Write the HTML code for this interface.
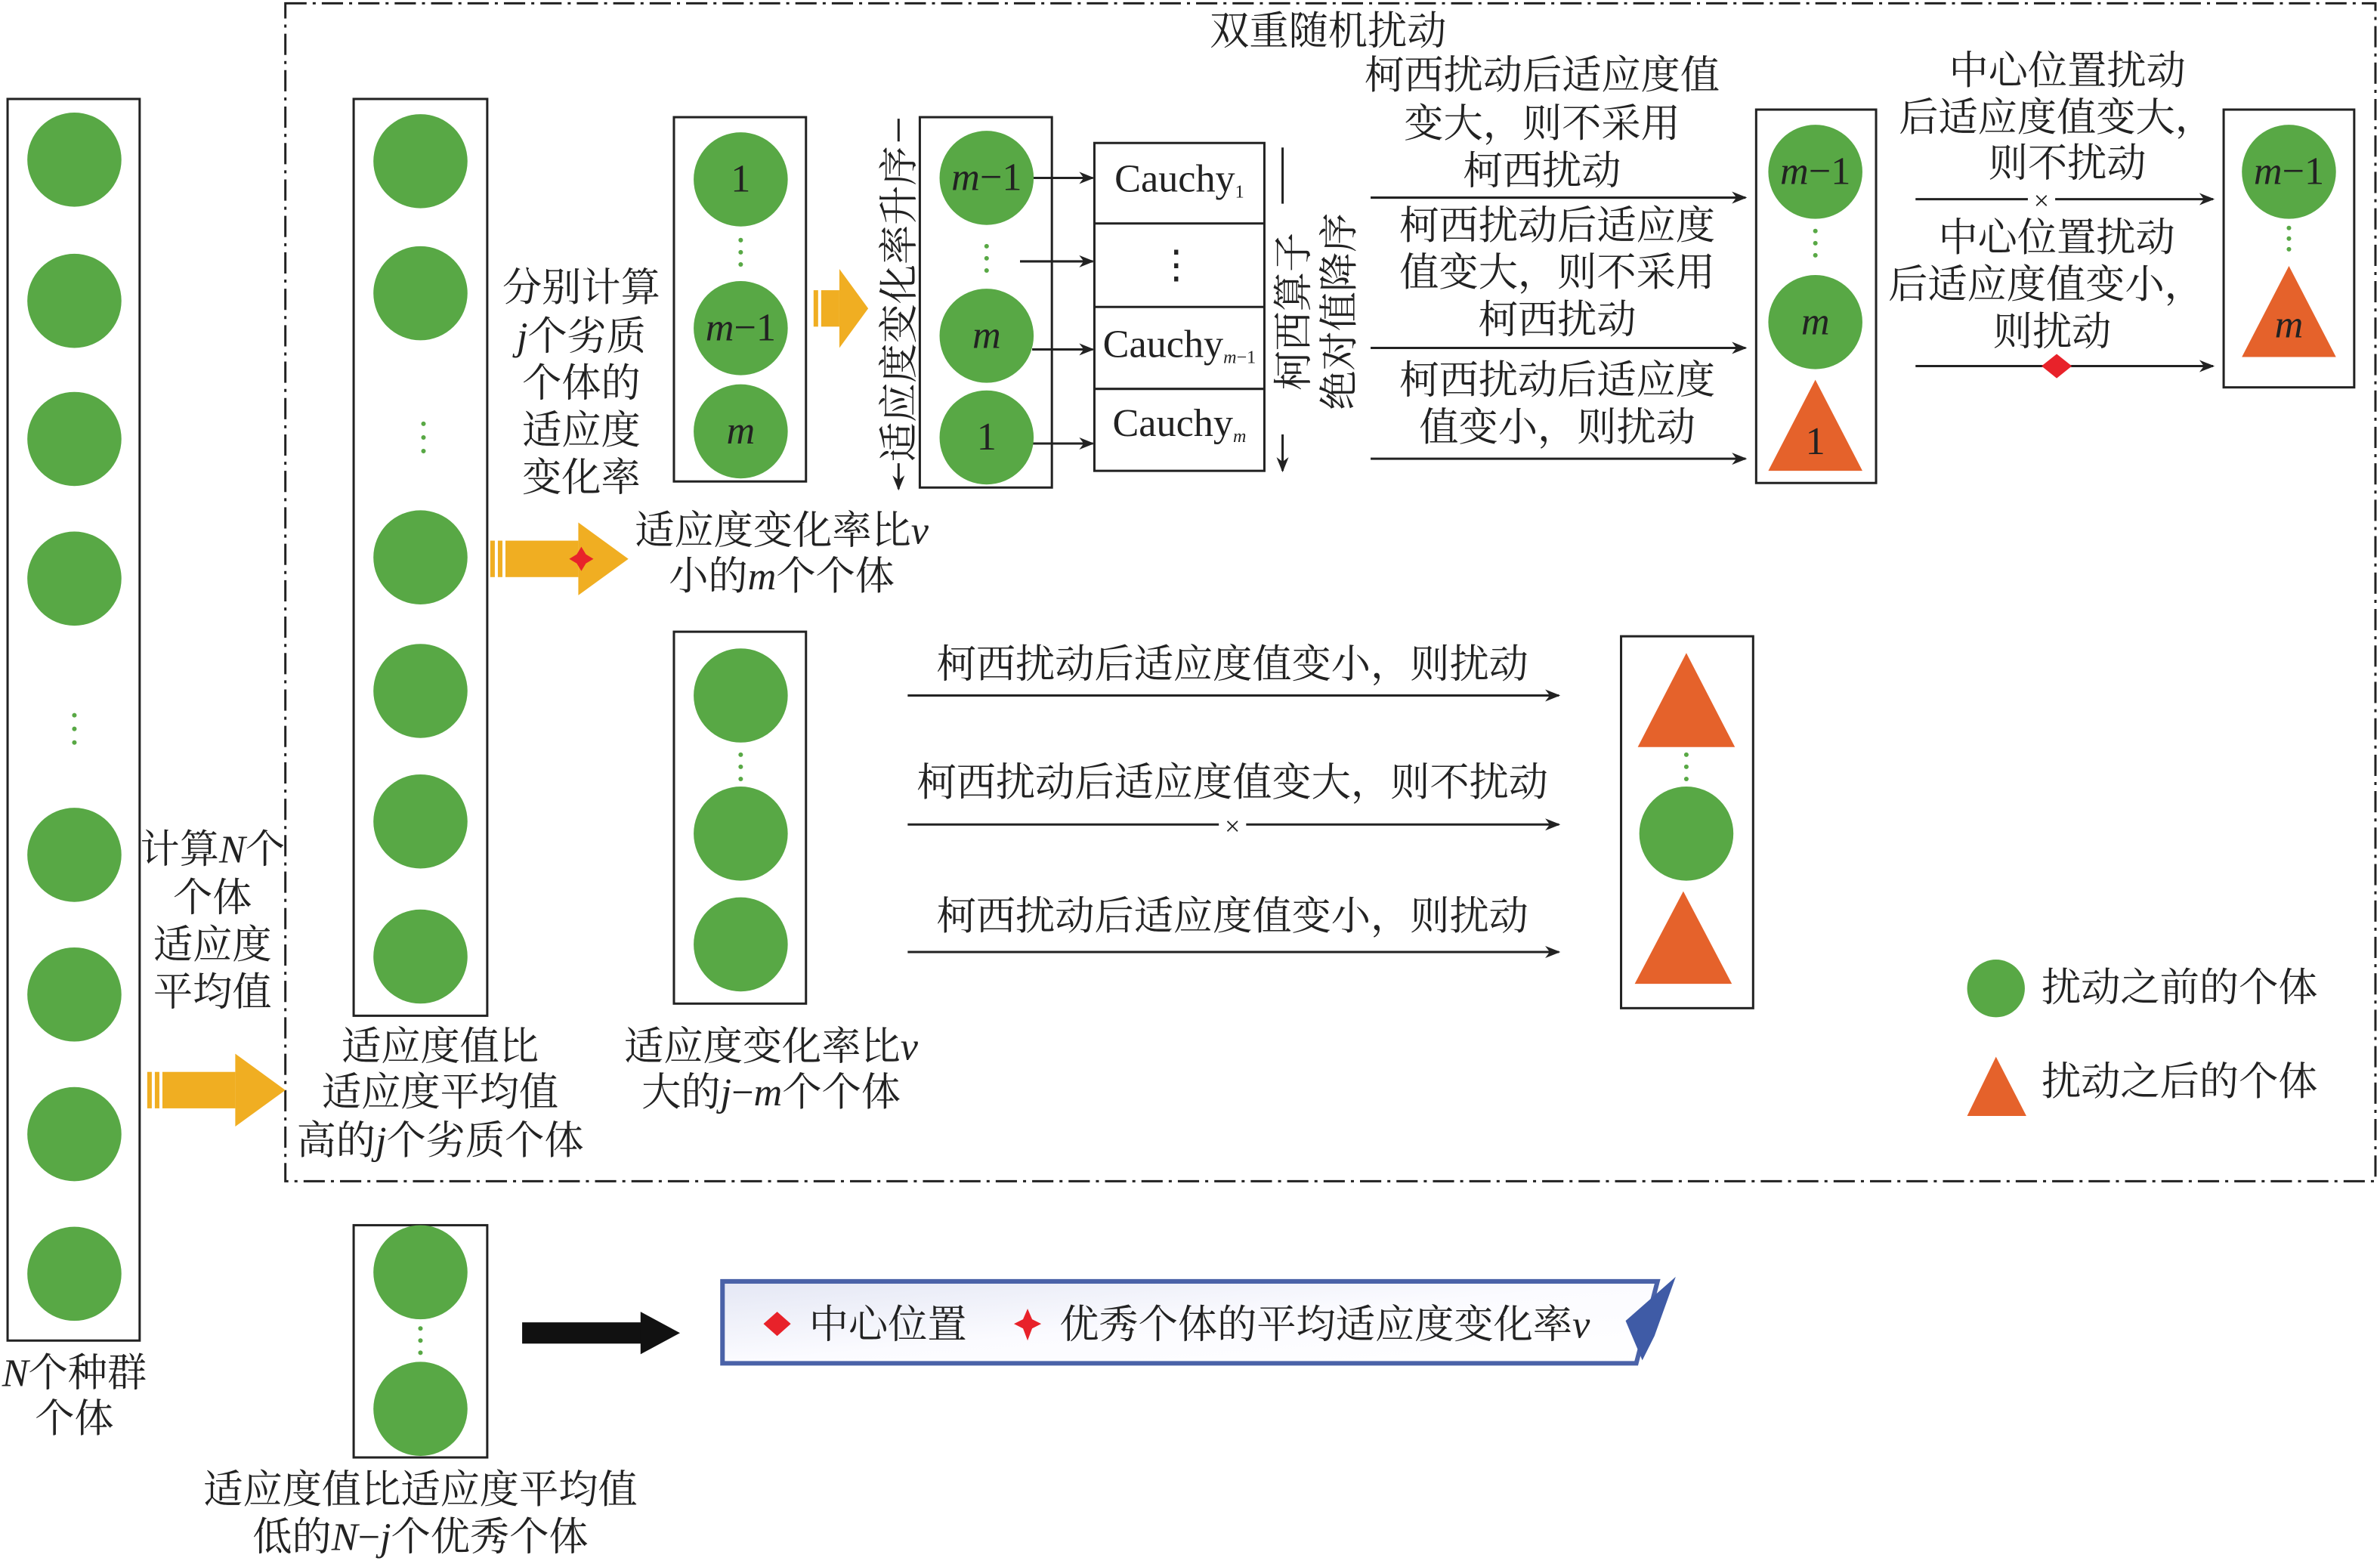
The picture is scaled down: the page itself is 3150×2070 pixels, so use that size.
<!DOCTYPE html>
<html><head><meta charset="utf-8"><style>
html,body{margin:0;padding:0;background:#fff;}
svg{display:block;}
text{font-family:"Liberation Serif","Noto Serif CJK SC",serif;font-size:26px;fill:#222;}
.c{text-anchor:middle;}
.i{font-style:italic;}
.n{font-style:normal;}
</style></head><body>
<svg width="3150" height="2070" viewBox="0 0 1568 1030" xmlns="http://www.w3.org/2000/svg">
<defs>
<marker id="ah" markerWidth="10" markerHeight="8" refX="9" refY="4" orient="auto" markerUnits="userSpaceOnUse"><path d="M0,0 L10,4 L0,8 L3,4 z" fill="#222"/></marker>
<linearGradient id="lg" x1="0" y1="0" x2="1" y2="1"><stop offset="0" stop-color="#e4e7f4"/><stop offset="0.5" stop-color="#fbfbff"/><stop offset="1" stop-color="#ffffff"/></linearGradient>
<g id="yarr"><rect x="0" y="-12" width="3" height="24" fill="#f0ae22"/><rect x="5" y="-12" width="3" height="24" fill="#f0ae22"/><rect x="10" y="-12" width="48" height="24" fill="#f0ae22"/><path d="M58,-24 L91,0 L58,24 z" fill="#f0ae22"/></g>
</defs>
<g fill="none" stroke="#222" stroke-width="1.5">
<path d="M188,2 L1565,2 L1565,778 L188,778 Z" stroke-dasharray="14,4,2,4"/>
<rect x="5" y="65" width="87" height="818"/>
<rect x="233" y="65" width="88" height="604"/>
<rect x="444" y="77" width="87" height="240"/>
<rect x="606" y="77" width="87" height="244"/>
<rect x="721" y="94" width="112" height="216"/>
<line x1="721" y1="147" x2="833" y2="147"/><line x1="721" y1="202" x2="833" y2="202"/><line x1="721" y1="256" x2="833" y2="256"/>
<rect x="1157" y="72" width="79" height="246"/>
<rect x="1465" y="72" width="86" height="183"/>
<rect x="444" y="416" width="87" height="245"/>
<rect x="1068" y="419" width="87" height="245"/>
<rect x="233" y="807" width="88" height="153"/>
</g>
<g stroke="#222" stroke-width="1.5" marker-end="url(#ah)">
<line x1="680" y1="117" x2="720" y2="117"/><line x1="672" y1="172" x2="720" y2="172"/><line x1="680" y1="230" x2="720" y2="230"/><line x1="680" y1="292" x2="720" y2="292"/>
<line x1="903" y1="130" x2="1150" y2="130"/><line x1="903" y1="229" x2="1150" y2="229"/><line x1="903" y1="302" x2="1150" y2="302"/>
<line x1="1262" y1="131" x2="1458" y2="131"/><line x1="1262" y1="241" x2="1458" y2="241"/>
<line x1="598" y1="458" x2="1027" y2="458"/><line x1="598" y1="543" x2="1027" y2="543"/><line x1="598" y1="627" x2="1027" y2="627"/>
<line x1="592" y1="78" x2="592" y2="322"/><line x1="845" y1="97" x2="845" y2="310"/>
</g>
<rect x="803" y="535" width="18" height="16" fill="#fff"/><text x="812" y="550" class="c" style="font-size:18px">×</text>
<rect x="1336" y="123" width="18" height="16" fill="#fff"/><text x="1345" y="138" class="c" style="font-size:18px">×</text>
<path d="M1355,233 L1365,241 L1355,249 L1345,241 z" fill="#e8222a"/>
<rect x="584" y="93" width="16" height="212" fill="#fff"/>
<rect x="837" y="134" width="16" height="152" fill="#fff"/>
<g fill="#58a845">
<circle cx="49" cy="105" r="31"/><circle cx="49" cy="198" r="31"/><circle cx="49" cy="289" r="31"/><circle cx="49" cy="381" r="31"/><circle cx="49" cy="563" r="31"/><circle cx="49" cy="655" r="31"/><circle cx="49" cy="747" r="31"/><circle cx="49" cy="839" r="31"/>
<circle cx="277" cy="106" r="31"/><circle cx="277" cy="193" r="31"/><circle cx="277" cy="367" r="31"/><circle cx="277" cy="455" r="31"/><circle cx="277" cy="541" r="31"/><circle cx="277" cy="630" r="31"/>
<circle cx="488" cy="118" r="31"/><circle cx="488" cy="216" r="31"/><circle cx="488" cy="284" r="31"/>
<circle cx="650" cy="117" r="31"/><circle cx="650" cy="221" r="31"/><circle cx="650" cy="288" r="31"/>
<circle cx="1196" cy="113" r="31"/><circle cx="1196" cy="212" r="31"/>
<circle cx="1508" cy="113" r="31"/>
<circle cx="488" cy="458" r="31"/><circle cx="488" cy="549" r="31"/><circle cx="488" cy="622" r="31"/>
<circle cx="1111" cy="549" r="31"/>
<circle cx="277" cy="838" r="31"/><circle cx="277" cy="928" r="31"/>
<circle cx="1315" cy="651" r="19"/>
</g>
<g fill="#58a845">
<circle cx="49" cy="471" r="1.5"/><circle cx="49" cy="480" r="1.5"/><circle cx="49" cy="489" r="1.5"/>
<circle cx="279" cy="279" r="1.5"/><circle cx="279" cy="288" r="1.5"/><circle cx="279" cy="297" r="1.5"/>
<circle cx="488" cy="158" r="1.5"/><circle cx="488" cy="166" r="1.5"/><circle cx="488" cy="174" r="1.5"/>
<circle cx="650" cy="162" r="1.5"/><circle cx="650" cy="170" r="1.5"/><circle cx="650" cy="178" r="1.5"/>
<circle cx="1196" cy="152" r="1.5"/><circle cx="1196" cy="160" r="1.5"/><circle cx="1196" cy="168" r="1.5"/>
<circle cx="1508" cy="150" r="1.5"/><circle cx="1508" cy="157" r="1.5"/><circle cx="1508" cy="164" r="1.5"/>
<circle cx="488" cy="497" r="1.5"/><circle cx="488" cy="505" r="1.5"/><circle cx="488" cy="513" r="1.5"/>
<circle cx="1111" cy="497" r="1.5"/><circle cx="1111" cy="505" r="1.5"/><circle cx="1111" cy="513" r="1.5"/>
<circle cx="277" cy="875" r="1.5"/><circle cx="277" cy="883" r="1.5"/><circle cx="277" cy="891" r="1.5"/>
</g>
<g fill="#e5622b">
<path d="M1196,250 L1227,310 L1165,310 z"/>
<path d="M1508,175 L1539,235 L1477,235 z"/>
<path d="M1111,430 L1143,492 L1079,492 z"/>
<path d="M1109,587 L1141,648 L1077,648 z"/>
<path d="M1315,696 L1335,735 L1296,735 z"/>
</g>
<use href="#yarr" x="97" y="718"/>
<use href="#yarr" x="323" y="368"/>
<g><rect x="536" y="191" width="3" height="24" fill="#f0ae22"/><rect x="541" y="191" width="12" height="24" fill="#f0ae22"/><path d="M553,177 L572,203 L553,229 z" fill="#f0ae22"/></g>
<path d="M383,360 L386,365 L391,368 L386,371 L383,376 L380,371 L375,368 L380,365 z" fill="#e8222a"/>
<rect x="344" y="871" width="80" height="14" fill="#111"/><path d="M422,864 L448,878 L422,892 z" fill="#111"/>
<path d="M476,844 L1092,844 L1078,898 L476,898 z" fill="url(#lg)" stroke="#4a62a8" stroke-width="3"/>
<path d="M1104,841 L1090,880 L1082,896 L1071,870 z" fill="#3f5ba6"/>
<path d="M512,864 L521,872 L512,880 L503,872 z" fill="#e8222a"/>
<path d="M677,862 L680,869 L686,872 L680,875 L677,883 L674,875 L668,872 L674,869 z" fill="#e8222a"/>
<text x="585" y="881" class="c">中心位置</text>
<text x="698" y="881">优秀个体的平均适应度变化率<tspan class="i">v</tspan></text>
<g class="i">
<text x="488" y="126" class="c n">1</text>
<text x="488" y="224" class="c"><tspan class="i">m</tspan><tspan class="n">−1</tspan></text>
<text x="488" y="292" class="c">m</text>
<text x="650" y="125" class="c"><tspan class="i">m</tspan><tspan class="n">−1</tspan></text>
<text x="650" y="229" class="c">m</text>
<text x="650" y="296" class="c n">1</text>
<text x="1196" y="121" class="c"><tspan class="i">m</tspan><tspan class="n">−1</tspan></text>
<text x="1196" y="220" class="c">m</text>
<text x="1196" y="299" class="c n">1</text>
<text x="1508" y="121" class="c"><tspan class="i">m</tspan><tspan class="n">−1</tspan></text>
<text x="1508" y="222" class="c">m</text>
</g>
<text x="777" y="126" class="c">Cauchy<tspan style="font-size:12px" dy="4">1</tspan></text>
<text x="775" y="183" class="c">⋮</text>
<text x="777" y="235" class="c">Cauchy<tspan style="font-size:12px" dy="4" class="i">m</tspan><tspan style="font-size:12px">−1</tspan></text>
<text x="777" y="287" class="c">Cauchy<tspan style="font-size:12px" dy="4" class="i">m</tspan></text>
<text x="875" y="29" class="c">双重随机扰动</text>
<text x="49" y="913" class="c"><tspan class="i">N</tspan>个种群</text>
<text x="49" y="943" class="c">个体</text>
<text x="140" y="568" class="c">计算<tspan class="i">N</tspan>个</text>
<text x="140" y="600" class="c">个体</text>
<text x="140" y="631" class="c">适应度</text>
<text x="140" y="662" class="c">平均值</text>
<text x="290" y="698" class="c">适应度值比</text>
<text x="290" y="728" class="c">适应度平均值</text>
<text x="290" y="760" class="c">高的<tspan class="i">j</tspan>个劣质个体</text>
<text x="383" y="198" class="c">分别计算</text>
<text x="383" y="230" class="c"><tspan class="i">j</tspan>个劣质</text>
<text x="383" y="261" class="c">个体的</text>
<text x="383" y="292" class="c">适应度</text>
<text x="383" y="323" class="c">变化率</text>
<text x="515" y="358" class="c">适应度变化率比<tspan class="i">v</tspan></text>
<text x="515" y="388" class="c">小的<tspan class="i">m</tspan>个个体</text>
<text x="508" y="698" class="c">适应度变化率比<tspan class="i">v</tspan></text>
<text x="508" y="728" class="c">大的<tspan class="i">j</tspan>−<tspan class="i">m</tspan>个个体</text>
<text x="277" y="990" class="c">适应度值比适应度平均值</text>
<text x="277" y="1021" class="c">低的<tspan class="i">N</tspan>−<tspan class="i">j</tspan>个优秀个体</text>
<text transform="translate(601,200) rotate(-90)" class="c">适应度变化率升序</text>
<text transform="translate(861,205) rotate(-90)" class="c">柯西算子</text>
<text transform="translate(891,205) rotate(-90)" class="c">绝对值降序</text>
<text x="1016" y="58" class="c">柯西扰动后适应度值</text>
<text x="1016" y="90" class="c">变大，则不采用</text>
<text x="1016" y="121" class="c">柯西扰动</text>
<text x="1026" y="157" class="c">柯西扰动后适应度</text>
<text x="1026" y="188" class="c">值变大，则不采用</text>
<text x="1026" y="219" class="c">柯西扰动</text>
<text x="1026" y="259" class="c">柯西扰动后适应度</text>
<text x="1026" y="290" class="c">值变小，则扰动</text>
<text x="1362" y="55" class="c">中心位置扰动</text>
<text x="1355" y="86" class="c">后适应度值变大，</text>
<text x="1362" y="116" class="c">则不扰动</text>
<text x="1355" y="165" class="c">中心位置扰动</text>
<text x="1348" y="196" class="c">后适应度值变小，</text>
<text x="1352" y="227" class="c">则扰动</text>
<text x="812" y="446" class="c">柯西扰动后适应度值变小，则扰动</text>
<text x="812" y="524" class="c">柯西扰动后适应度值变大，则不扰动</text>
<text x="812" y="612" class="c">柯西扰动后适应度值变小，则扰动</text>
<text x="1345" y="659">扰动之前的个体</text>
<text x="1345" y="721">扰动之后的个体</text>
</svg>
</body></html>
